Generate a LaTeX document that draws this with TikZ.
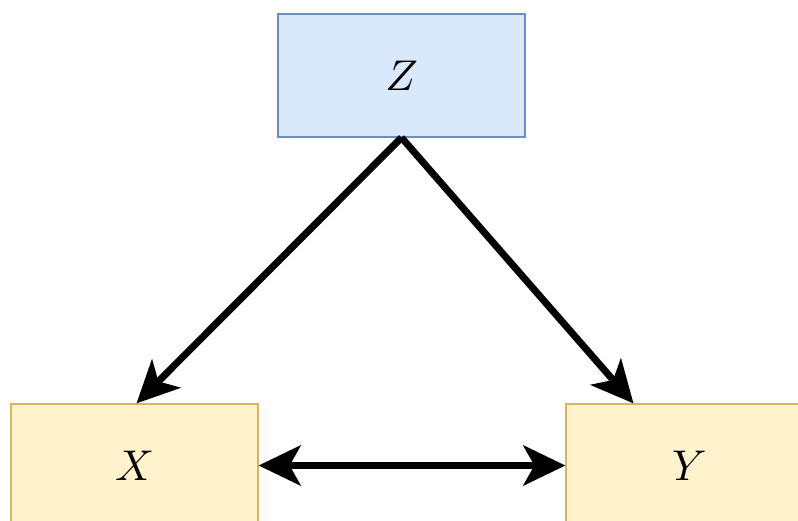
\documentclass[tikz,border=0pt]{standalone}
\usepackage{amsmath}
\usepackage{xcolor}
\usepackage{tikz}
\usetikzlibrary{arrows.meta}

\definecolor{zfill}{HTML}{DAE8FC}
\definecolor{zline}{HTML}{6C8EBF}
\definecolor{xyfill}{HTML}{FFF2CC}
\definecolor{xyline}{HTML}{D6B656}
\newcommand{\bigvar}[1]{\scalebox{4.3}{$#1$}}

\begin{document}
\begin{tikzpicture}[x=1pt, y=-1pt,
    >={Stealth[length=42pt, width=40pt, inset=11pt]},
    var/.style={draw, rectangle, line width=1.2pt, minimum width=247pt, minimum height=123pt},
    edge/.style={line width=7pt}]
    \useasboundingbox (0,0) rectangle (798,520);
    \clip (0,0) rectangle (798,520);
    \node[var, fill=zfill, draw=zline] (z) at (401.5,75.5) {\bigvar{Z}};
    \node[var, fill=xyfill, draw=xyline] (x) at (134.5,465.5) {\bigvar{X}};
    \node[var, fill=xyfill, draw=xyline] (y) at (689.5,465.5) {\bigvar{Y}};

    \draw[edge, ->] (z.south) -- ([xshift=2pt]x.north);
    \draw[edge, ->] (z.south) -- ([xshift=-56pt]y.north);
    \draw[edge, <->] (x) -- (y);
\end{tikzpicture}
\end{document}
